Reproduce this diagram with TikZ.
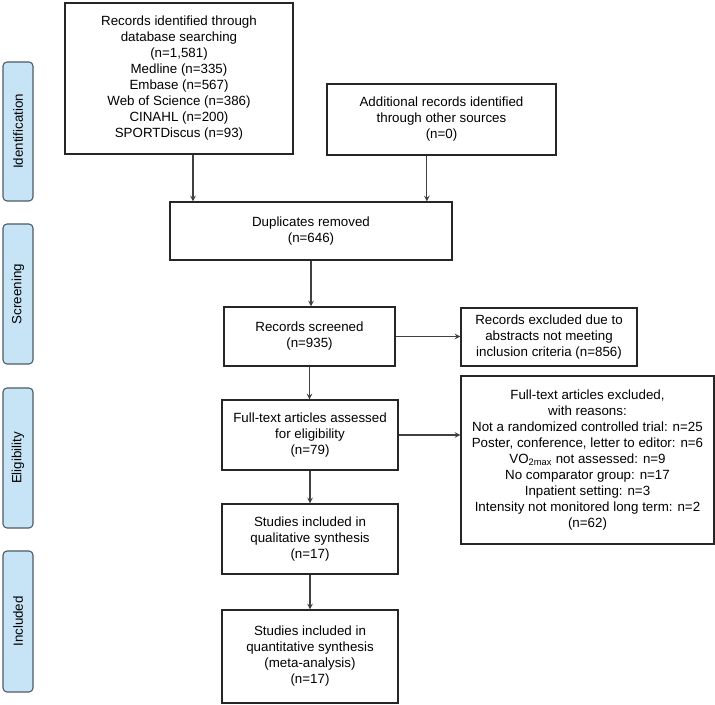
\documentclass[tikz,border=0pt]{standalone}
\usepackage{fontspec}
\setmainfont{Liberation Sans}
\definecolor{stagefill}{HTML}{C6E4F5}
\definecolor{stageline}{HTML}{4D5A63}
\tikzset{
    box/.style={draw=black!85, line width=0.9pt, align=center, inner sep=2pt,
        font=\fontsize{10}{12}\selectfont},
    stage/.style={draw=stageline, fill=stagefill, line width=0.8pt, rounded corners=3pt,
        rotate=90, minimum height=22.5pt, inner sep=0pt, font=\fontsize{10}{12}\selectfont},
    arr/.style={draw=black!75, line width=0.9pt, -stealth}
}
\begin{document}
\begin{tikzpicture}[x=0.75pt, y=-0.75pt]
    \useasboundingbox (0,0) rectangle (715,705);
    % stages
    \node[stage, minimum width=104.25pt] (ident) at (18,131.5) {Identification};
    \node[stage, minimum width=105pt] (screen) at (18,294) {Screening};
    \node[stage, minimum width=105pt] (elig) at (18,458) {Eligibility};
    \node[stage, minimum width=105.75pt] (incl) at (18,621.5) {Included};
    % boxes
    \node[box, minimum width=171pt, minimum height=113.25pt] (db) at (179,78.5)
        {Records identified through\\database searching\\(n=1,581)\\Medline (n=335)\\Embase (n=567)\\Web of Science (n=386)\\CINAHL (n=200)\\SPORTDiscus (n=93)};
    \node[box, minimum width=171.75pt, minimum height=53.25pt] (add) at (441.5,119.5)
        {Additional records identified\\through other sources\\(n=0)};
    \node[box, minimum width=211.5pt, minimum height=43.5pt] (dup) at (311,231)
        {Duplicates removed\\(n=646)};
    \node[box, minimum width=128.25pt, minimum height=44.25pt] (screened) at (309.5,336.5)
        {Records screened\\(n=935)};
    \node[box, minimum width=132pt, minimum height=43.5pt] (exclabs) at (549,337)
        {Records excluded due to\\abstracts not meeting\\inclusion criteria (n=856)};
    \node[box, minimum width=132pt, minimum height=52.5pt] (assessed) at (310,435)
        {Full-text articles assessed\\for eligibility\\(n=79)};
    \node[box, minimum width=189.75pt, minimum height=126pt] (exclfull) at (587.5,460)
        {Full-text articles excluded,\\with reasons:\\Not a randomized controlled trial: n=25\\Poster, conference, letter to editor: n=6\\VO\textsubscript{2max} not assessed: n=9\\No comparator group: n=17\\Inpatient setting: n=3\\Intensity not monitored long term: n=2\\(n=62)};
    \node[box, minimum width=132pt, minimum height=52.5pt] (qual) at (310,539)
        {Studies included in\\qualitative synthesis\\(n=17)};
    \node[box, minimum width=132pt, minimum height=69.75pt] (quant) at (310,656.5)
        {Studies included in\\quantitative synthesis\\(meta-analysis)\\(n=17)};
    % arrows
    \draw[arr] ([xshift=10.5pt]db.south) -- ([xshift=10.5pt]db.south |- dup.north);
    \draw[arr] ([xshift=-11pt]add.south) -- ([xshift=-11pt]add.south |- dup.north);
    \draw[arr] (dup.south) -- (dup.south |- screened.north);
    \draw[arr] (screened.south) -- (screened.south |- assessed.north);
    \draw[arr] (assessed.south) -- (qual.north);
    \draw[arr] (qual.south) -- (quant.north);
    \draw[arr] (screened.east) -- (screened.east -| exclabs.west);
    \draw[arr] (assessed.east) -- (assessed.east -| exclfull.west);
\end{tikzpicture}
\end{document}
